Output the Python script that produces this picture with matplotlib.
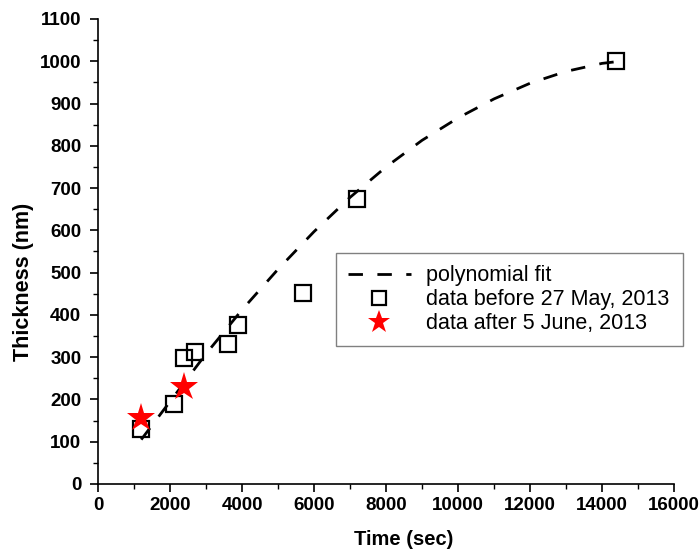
import numpy as np
import matplotlib
matplotlib.use("Agg")
import matplotlib.pyplot as plt
from matplotlib.ticker import MultipleLocator

plt.rcParams["font.family"] = ["Liberation Sans", "DejaVu Sans"]

# data before 27 May, 2013
T_BEFORE = [1200, 2100, 2400, 2700, 3600, 3900, 5700, 7200, 14400]
D_BEFORE = [130, 190, 297, 313, 330, 375, 452, 675, 1000]

# data after 5 June, 2013
T_AFTER = [1200, 2400]
D_AFTER = [155, 230]

# polynomial fit
T_FIT = [1200, 2000, 3000, 4000, 5000, 6000, 7000, 8000, 9000, 10000,
         11000, 12000, 13000, 14000, 14400]
D_FIT = [105, 195, 308, 412, 508, 597, 678, 750, 813, 866,
         911, 948, 976, 995, 999]

XTICKS = list(range(0, 16001, 2000))
YTICKS = list(range(0, 1101, 100))


def plot(output="out.png"):
    fig = plt.figure(figsize=(7, 5.52), dpi=100)
    ax = fig.add_axes([0.14, 0.1232, 0.823, 0.8424])

    ax.plot(T_FIT, D_FIT, color="black", linewidth=2.0,
            dashes=(5.2, 5.2), dash_capstyle="butt", label="polynomial fit", zorder=2)
    ax.plot(T_BEFORE, D_BEFORE, "s", markersize=11.5, markerfacecolor="none",
            markeredgecolor="black", markeredgewidth=1.6,
            label="data before 27 May, 2013", zorder=3)
    ax.plot(T_AFTER, D_AFTER, "*", markersize=21, color="red",
            markeredgewidth=0, label="data after 5 June, 2013", zorder=4)

    ax.set_xlim(0, 16000)
    ax.set_ylim(0, 1100)
    ax.set_xticks(XTICKS)
    ax.set_yticks(YTICKS)
    ax.xaxis.set_minor_locator(MultipleLocator(1000))
    ax.yaxis.set_minor_locator(MultipleLocator(50))

    for s in ["top", "right"]:
        ax.spines[s].set_visible(False)
    for s in ["left", "bottom"]:
        ax.spines[s].set_linewidth(1.2)

    ax.tick_params(which="major", direction="out", length=6, width=1.2, labelsize=13.5)
    ax.tick_params(which="minor", direction="out", length=3.5, width=1.0)
    ax.tick_params(axis="x", which="major", pad=3.5)
    ax.tick_params(axis="y", which="major", pad=6)
    for lbl in ax.get_xticklabels() + ax.get_yticklabels():
        lbl.set_fontweight("bold")

    ax.set_xlabel("Time (sec)", fontsize=14.5, fontweight="bold", va="center")
    ax.set_ylabel("Thickness (nm)", fontsize=15.5, fontweight="bold", va="center")
    ax.xaxis.set_label_coords(0.531, -0.120)
    ax.yaxis.set_label_coords(-0.130, 0.434)

    leg = ax.legend(loc="upper left", bbox_to_anchor=(0.413, 0.292, 0.603, 0.205),
                    mode="expand", fontsize=15.5, frameon=True, fancybox=False,
                    framealpha=1, handlelength=2.9, borderpad=0.57, markerscale=0.82,
                    labelspacing=0.14, handletextpad=0.7, borderaxespad=0)
    leg.get_frame().set_edgecolor("gray")
    leg.get_frame().set_linewidth(1.0)

    fig.savefig(output, dpi=100)


if __name__ == "__main__":
    plot("out.png")
